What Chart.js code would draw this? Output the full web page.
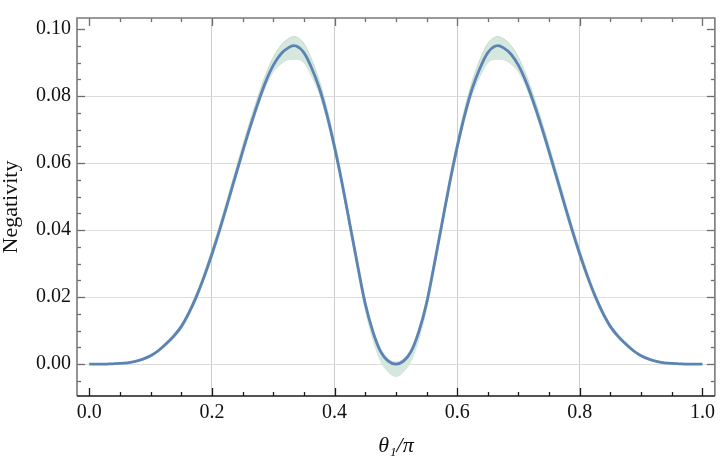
<!DOCTYPE html>
<html>
<head>
<meta charset="utf-8">
<script src="https://cdn.jsdelivr.net/npm/chart.js@4.4.1/dist/chart.umd.min.js"></script>
<style>
  html, body { margin: 0; padding: 0; background: #fff; }
  #wrap { width: 720px; height: 461px; }
</style>
</head>
<body>
<div id="wrap"><canvas id="chart" width="720" height="461"></canvas></div>
<script>
// theta_1 / pi
const theta = [
  0, 0.0125, 0.025, 0.0375, 0.05, 0.0625, 0.075, 0.0875, 0.1, 0.1125, 0.125, 0.1375, 0.15, 0.1625, 0.175, 0.1875,
  0.2, 0.2125, 0.225, 0.2375, 0.25, 0.2625, 0.275, 0.2875, 0.3, 0.3125, 0.325, 0.3333, 0.3375, 0.35, 0.3625, 0.375,
  0.3875, 0.4, 0.4125, 0.425, 0.4375, 0.45, 0.4625, 0.475, 0.4875, 0.5,
  0.5125, 0.525, 0.5375, 0.55, 0.5625, 0.575, 0.5875, 0.6, 0.6125, 0.625, 0.6375, 0.65, 0.6625, 0.6667, 0.675, 0.6875,
  0.7, 0.7125, 0.725, 0.7375, 0.75, 0.7625, 0.775, 0.7875, 0.8, 0.8125, 0.825, 0.8375, 0.85, 0.8625, 0.875, 0.8875,
  0.9, 0.9125, 0.925, 0.9375, 0.95, 0.9625, 0.975, 0.9875, 1.0,
];

const negativity = [
  0, 0, 0, 0.0001, 0.0002, 0.0004, 0.0008, 0.0015, 0.0025, 0.0040, 0.0060, 0.0083, 0.0112, 0.0153, 0.0203, 0.0262,
  0.0328, 0.0400, 0.0477, 0.0556, 0.0634, 0.0709, 0.0779, 0.0842, 0.0892, 0.0926, 0.0945, 0.0951, 0.0950, 0.0930, 0.0885, 0.0825,
  0.0745, 0.0648, 0.0538, 0.0417, 0.0296, 0.0181, 0.0097, 0.0038, 0.0009, 0,
  0.0009, 0.0038, 0.0097, 0.0181, 0.0296, 0.0417, 0.0538, 0.0648, 0.0745, 0.0825, 0.0885, 0.0930, 0.0950, 0.0951, 0.0945, 0.0926,
  0.0892, 0.0842, 0.0779, 0.0709, 0.0634, 0.0556, 0.0477, 0.0400, 0.0328, 0.0262, 0.0203, 0.0153, 0.0112, 0.0083, 0.0060, 0.0040,
  0.0025, 0.0015, 0.0008, 0.0004, 0.0002, 0.0001, 0, 0, 0,
];

const bandUpper = [
  0, 0, 0, 0.0001, 0.0002, 0.0004, 0.0009, 0.0017, 0.0028, 0.0044, 0.0065, 0.0089, 0.0119, 0.0161, 0.0213, 0.0274,
  0.0342, 0.0415, 0.0493, 0.0573, 0.0652, 0.0728, 0.0799, 0.0864, 0.0916, 0.0952, 0.0972, 0.0978, 0.0977, 0.0958, 0.0911, 0.0848,
  0.0765, 0.0666, 0.0556, 0.0434, 0.0312, 0.0195, 0.0108, 0.0047, 0.0016, 0.0006,
  0.0016, 0.0047, 0.0108, 0.0195, 0.0312, 0.0434, 0.0556, 0.0666, 0.0765, 0.0848, 0.0911, 0.0958, 0.0977, 0.0978, 0.0972, 0.0952,
  0.0916, 0.0864, 0.0799, 0.0728, 0.0652, 0.0573, 0.0493, 0.0415, 0.0342, 0.0274, 0.0213, 0.0161, 0.0119, 0.0089, 0.0065, 0.0044,
  0.0028, 0.0017, 0.0009, 0.0004, 0.0002, 0.0001, 0, 0, 0,
];

const bandLower = [
  0, 0, 0, 0.0001, 0.0002, 0.0004, 0.0007, 0.0013, 0.0022, 0.0036, 0.0055, 0.0077, 0.0105, 0.0145, 0.0194, 0.0252,
  0.0317, 0.0388, 0.0465, 0.0544, 0.0622, 0.0697, 0.0767, 0.0828, 0.0872, 0.0896, 0.0909, 0.0910, 0.0910, 0.0900, 0.0860, 0.0808,
  0.0731, 0.0636, 0.0526, 0.0404, 0.0281, 0.0163, 0.0074, 0.0010, -0.0023, -0.0037,
  -0.0023, 0.0010, 0.0074, 0.0163, 0.0281, 0.0404, 0.0526, 0.0636, 0.0731, 0.0808, 0.0860, 0.0900, 0.0910, 0.0910, 0.0909, 0.0896,
  0.0872, 0.0828, 0.0767, 0.0697, 0.0622, 0.0544, 0.0465, 0.0388, 0.0317, 0.0252, 0.0194, 0.0145, 0.0105, 0.0077, 0.0055, 0.0036,
  0.0022, 0.0013, 0.0007, 0.0004, 0.0002, 0.0001, 0, 0, 0,
];

const xTicks = [0, 0.2, 0.4, 0.6, 0.8, 1.0];
const yTicks = [0, 0.02, 0.04, 0.06, 0.08, 0.10];
const xGrid = [0.2, 0.4, 0.6, 0.8];
const yGrid = [0, 0.02, 0.04, 0.06, 0.08];

const pts = (ys) => theta.map((t, i) => ({ x: t, y: ys[i] }));
const near = (v, list) => list.some((g) => Math.abs(g - v) < 1e-9);

// frame with inward ticks on all four sides
const frameTicks = {
  id: "frameTicks",
  afterDraw(chart) {
    const { ctx, chartArea: a, scales } = chart;
    const sx = scales.x, sy = scales.y;
    ctx.save();
    ctx.lineWidth = 1.3;

    // x ticks: bottom black, top gray
    for (let k = 0; k <= 20; k++) {
      const v = k * 0.05;
      const px = Math.round(sx.getPixelForValue(v)) + 0.5;
      const len = k % 4 === 0 ? 8 : 4;
      ctx.strokeStyle = "#1a1a1a";
      ctx.beginPath(); ctx.moveTo(px, a.bottom); ctx.lineTo(px, a.bottom - len); ctx.stroke();
      ctx.strokeStyle = "#6e6e6e";
      ctx.beginPath(); ctx.moveTo(px, a.top); ctx.lineTo(px, a.top + len); ctx.stroke();
    }
    // y ticks
    for (let k = -1; k <= 20; k++) {
      const v = k * 0.005;
      const py = Math.round(sy.getPixelForValue(v)) + 0.5;
      const len = k % 4 === 0 ? 8 : 4;
      ctx.strokeStyle = "#6e6e6e";
      ctx.beginPath(); ctx.moveTo(a.left, py); ctx.lineTo(a.left + len, py); ctx.stroke();
      ctx.beginPath(); ctx.moveTo(a.right, py); ctx.lineTo(a.right - len, py); ctx.stroke();
    }

    ctx.lineWidth = 1.6;
    ctx.strokeStyle = "#7a7a7a";
    ctx.beginPath();
    ctx.moveTo(a.left, a.bottom); ctx.lineTo(a.left, a.top); ctx.lineTo(a.right, a.top); ctx.lineTo(a.right, a.bottom);
    ctx.stroke();
    ctx.strokeStyle = "#1a1a1a";
    ctx.beginPath(); ctx.moveTo(a.left, a.bottom); ctx.lineTo(a.right, a.bottom); ctx.stroke();
    ctx.restore();
  },
};

const serif = "'Liberation Serif', 'DejaVu Serif', serif";

new Chart(document.getElementById("chart"), {
  type: "line",
  data: {
    datasets: [
      {
        label: "Negativity",
        data: pts(negativity),
        borderColor: "#5b83b4",
        borderWidth: 2.8,
        pointRadius: 0,
        cubicInterpolationMode: "monotone",
        fill: false,
        order: 0,
      },
      {
        label: "lower",
        data: pts(bandLower),
        borderColor: "rgba(150, 195, 165, 0.45)",
        borderWidth: 1,
        pointRadius: 0,
        cubicInterpolationMode: "monotone",
        fill: false,
        order: 2,
      },
      {
        label: "upper",
        data: pts(bandUpper),
        borderColor: "rgba(150, 195, 165, 0.45)",
        borderWidth: 1,
        backgroundColor: "#d6e8dd",
        pointRadius: 0,
        cubicInterpolationMode: "monotone",
        fill: "-1",
        order: 1,
      },
    ],
  },
  options: {
    responsive: false,
    animation: false,
    events: [],
    layout: { padding: { top: 1, right: 3.5, left: 0, bottom: 0 } },
    plugins: { legend: { display: false }, tooltip: { enabled: false } },
    scales: {
      x: {
        type: "linear",
        min: -0.02,
        max: 1.0203,
        afterBuildTicks: (s) => { s.ticks = xTicks.map((v) => ({ value: v })); },
        afterFit: (s) => { s.height = 65; },
        border: { display: false },
        grid: {
          drawTicks: false,
          color: (c) => (near(c.tick.value, xGrid) ? "#cccccc" : "rgba(0,0,0,0)"),
          lineWidth: 1,
        },
        ticks: {
          padding: 5,
          maxRotation: 0,
          color: "#111",
          font: { family: serif, size: 20 },
          callback: (v) => v.toFixed(1),
        },
        title: {
          display: true,
          text: "θ₁/π",
          color: "#111",
          font: { family: serif, size: 22, style: "italic", lineHeight: 1 },
          padding: { top: 0, bottom: 4 },
        },
      },
      y: {
        type: "linear",
        min: -0.00951,
        max: 0.10334,
        afterBuildTicks: (s) => { s.ticks = yTicks.map((v) => ({ value: v })); },
        afterFit: (s) => { s.width = 77; },
        border: { display: false },
        grid: {
          drawTicks: false,
          color: (c) => (near(c.tick.value, yGrid) ? "#dcdcdc" : "rgba(0,0,0,0)"),
          lineWidth: 1,
        },
        ticks: {
          padding: 6,
          color: "#111",
          font: { family: serif, size: 20 },
          callback: (v) => v.toFixed(2),
        },
        title: {
          display: true,
          text: "Negativity",
          color: "#111",
          font: { family: serif, size: 22, lineHeight: 1 },
          padding: 0,
        },
      },
    },
  },
  plugins: [frameTicks],
});
</script>
</body>
</html>
